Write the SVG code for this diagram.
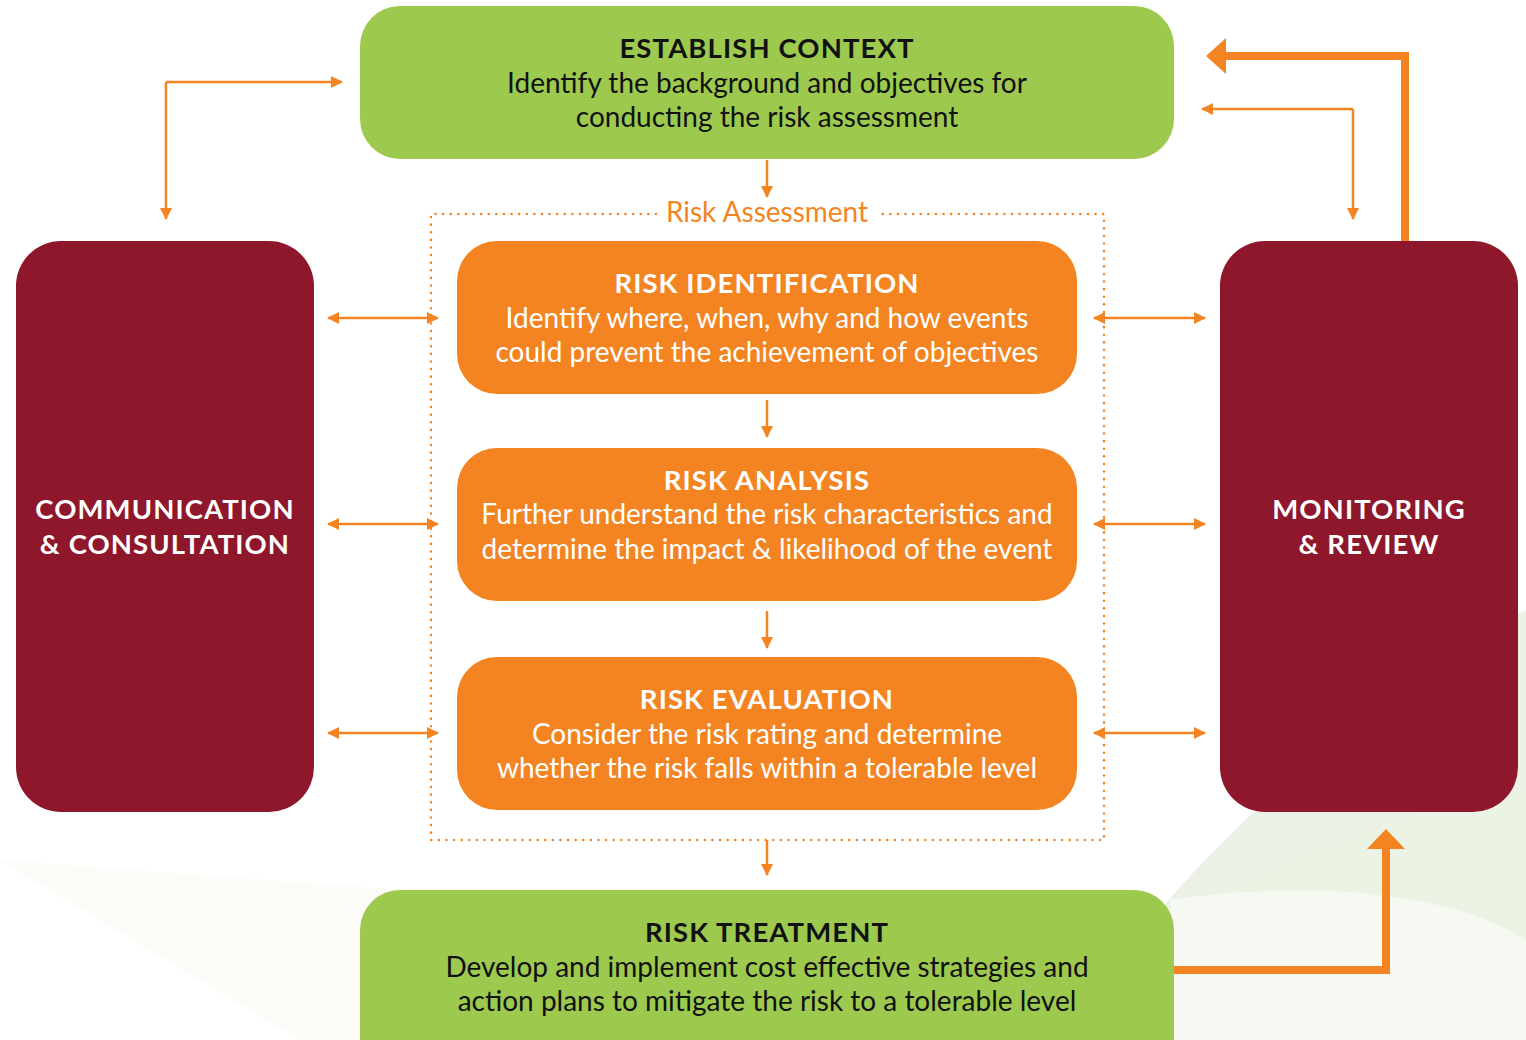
<svg xmlns="http://www.w3.org/2000/svg" width="1526" height="1040" viewBox="0 0 1526 1040">
<style>
.green{fill:#9DCA4E}
.maroon{fill:#8E172B}
.orange{fill:#F48422}
.t{font-family:Lato,"Open Sans","Liberation Sans",sans-serif;text-anchor:middle}
.tb{font-weight:bold;font-size:27.5px;letter-spacing:1.1px}
.body{font-size:28px}
.dark{fill:#111}
.white{fill:#fff}
.ln{stroke:#F48422;stroke-width:2.5;fill:none}
.thick{stroke:#F48422;stroke-width:8;fill:none}
.ah{fill:#F48422}
</style>
<defs>
<marker id="a" viewBox="0 0 12 12" refX="11" refY="6" markerWidth="12" markerHeight="12" markerUnits="userSpaceOnUse" orient="auto-start-reverse"><path d="M0,0 L12,6 L0,12 Z" fill="#F48422"/></marker>
</defs>
<rect width="1526" height="1040" fill="#fff"/>
<g id="background">
<path d="M1060,1040 C1180,860 1360,700 1526,610 L1526,1040 Z" fill="#E6EFDE" opacity="0.8"/>
<path d="M1000,1040 C1150,900 1350,820 1526,790 L1526,1040 Z" fill="#EAF2E3" opacity="0.8"/>
<path d="M1170,900 C1300,880 1450,890 1526,940 L1526,1040 L1170,1040 Z" fill="#F5F9F1"/>
<path d="M0,860 L400,890 L1100,990 L1100,1040 L300,1040 Z" fill="#FDFBF6" opacity="0.9"/>
<path d="M360,1040 L900,960 L1100,1000 L1100,1040 Z" fill="#F7F0D0" opacity="0.6"/>
</g>
<g id="connectors">
<path class="ln" d="M166,82 H342" marker-end="url(#a)"/>
<path class="ln" d="M166,82 V219" marker-end="url(#a)"/>
<path class="ln" d="M1353,109 H1202" marker-end="url(#a)"/>
<path class="ln" d="M1353,109 V219" marker-end="url(#a)"/>
<path class="thick" d="M1405,241 V56 H1224"/>
<path class="ah" d="M1206,56 L1226,38 L1226,74 Z"/>
<path class="thick" d="M1174,970 H1386 V848"/>
<path class="ah" d="M1386,829 L1405,849 L1367,849 Z"/>
<path class="ln" d="M767,160 V197" marker-end="url(#a)"/>
<path class="ln" d="M767,400 V437" marker-end="url(#a)"/>
<path class="ln" d="M767,611 V648" marker-end="url(#a)"/>
<path class="ln" d="M767,840 V875" marker-end="url(#a)"/>
<path class="ln" d="M328,318 H438" marker-start="url(#a)" marker-end="url(#a)"/>
<path class="ln" d="M328,524 H438" marker-start="url(#a)" marker-end="url(#a)"/>
<path class="ln" d="M328,733 H438" marker-start="url(#a)" marker-end="url(#a)"/>
<path class="ln" d="M1094,318 H1205" marker-start="url(#a)" marker-end="url(#a)"/>
<path class="ln" d="M1094,524 H1205" marker-start="url(#a)" marker-end="url(#a)"/>
<path class="ln" d="M1094,733 H1205" marker-start="url(#a)" marker-end="url(#a)"/>
</g>
<g id="risk-assessment">
<path d="M656,214 H431 V840 H1104 V214 H878" fill="none" stroke="#F48422" stroke-width="2.5" stroke-dasharray="0.1 7.5" stroke-linecap="round"/>
<text class="t" x="767" y="222" font-size="28" fill="#F48422">Risk Assessment</text>
</g>
<g id="establish-context">
<rect class="green" x="360" y="6" width="814" height="153" rx="40"/>
<text class="t tb dark" x="767" y="58">ESTABLISH CONTEXT</text>
<text class="t body dark" x="767" y="93">Identify the background and objectives for</text>
<text class="t body dark" x="767" y="127">conducting the risk assessment</text>
</g>
<g id="communication">
<rect class="maroon" x="16" y="241" width="298" height="571" rx="45"/>
<text class="t tb white" x="165" y="519">COMMUNICATION</text>
<text class="t tb white" x="165" y="554">&amp; CONSULTATION</text>
</g>
<g id="monitoring">
<rect class="maroon" x="1220" y="241" width="298" height="571" rx="45"/>
<text class="t tb white" x="1369" y="519">MONITORING</text>
<text class="t tb white" x="1369" y="554">&amp; REVIEW</text>
</g>
<g id="risk-identification">
<rect class="orange" x="457" y="241" width="620" height="153" rx="40"/>
<text class="t tb white" x="767" y="293">RISK IDENTIFICATION</text>
<text class="t body white" x="767" y="328">Identify where, when, why and how events</text>
<text class="t body white" x="767" y="362">could prevent the achievement of objectives</text>
</g>
<g id="risk-analysis">
<rect class="orange" x="457" y="448" width="620" height="153" rx="40"/>
<text class="t tb white" x="767" y="490">RISK ANALYSIS</text>
<text class="t body white" x="767" y="524" font-size="27">Further understand the risk characteristics and</text>
<text class="t body white" x="767" y="559" font-size="27">determine the impact &amp; likelihood of the event</text>
</g>
<g id="risk-evaluation">
<rect class="orange" x="457" y="657" width="620" height="153" rx="40"/>
<text class="t tb white" x="767" y="709">RISK EVALUATION</text>
<text class="t body white" x="767" y="744">Consider the risk rating and determine</text>
<text class="t body white" x="767" y="778">whether the risk falls within a tolerable level</text>
</g>
<g id="risk-treatment">
<rect class="green" x="360" y="890" width="814" height="200" rx="40"/>
<text class="t tb dark" x="767" y="942">RISK TREATMENT</text>
<text class="t body dark" x="767" y="977">Develop and implement cost effective strategies and</text>
<text class="t body dark" x="767" y="1011">action plans to mitigate the risk to a tolerable level</text>
</g>
</svg>
